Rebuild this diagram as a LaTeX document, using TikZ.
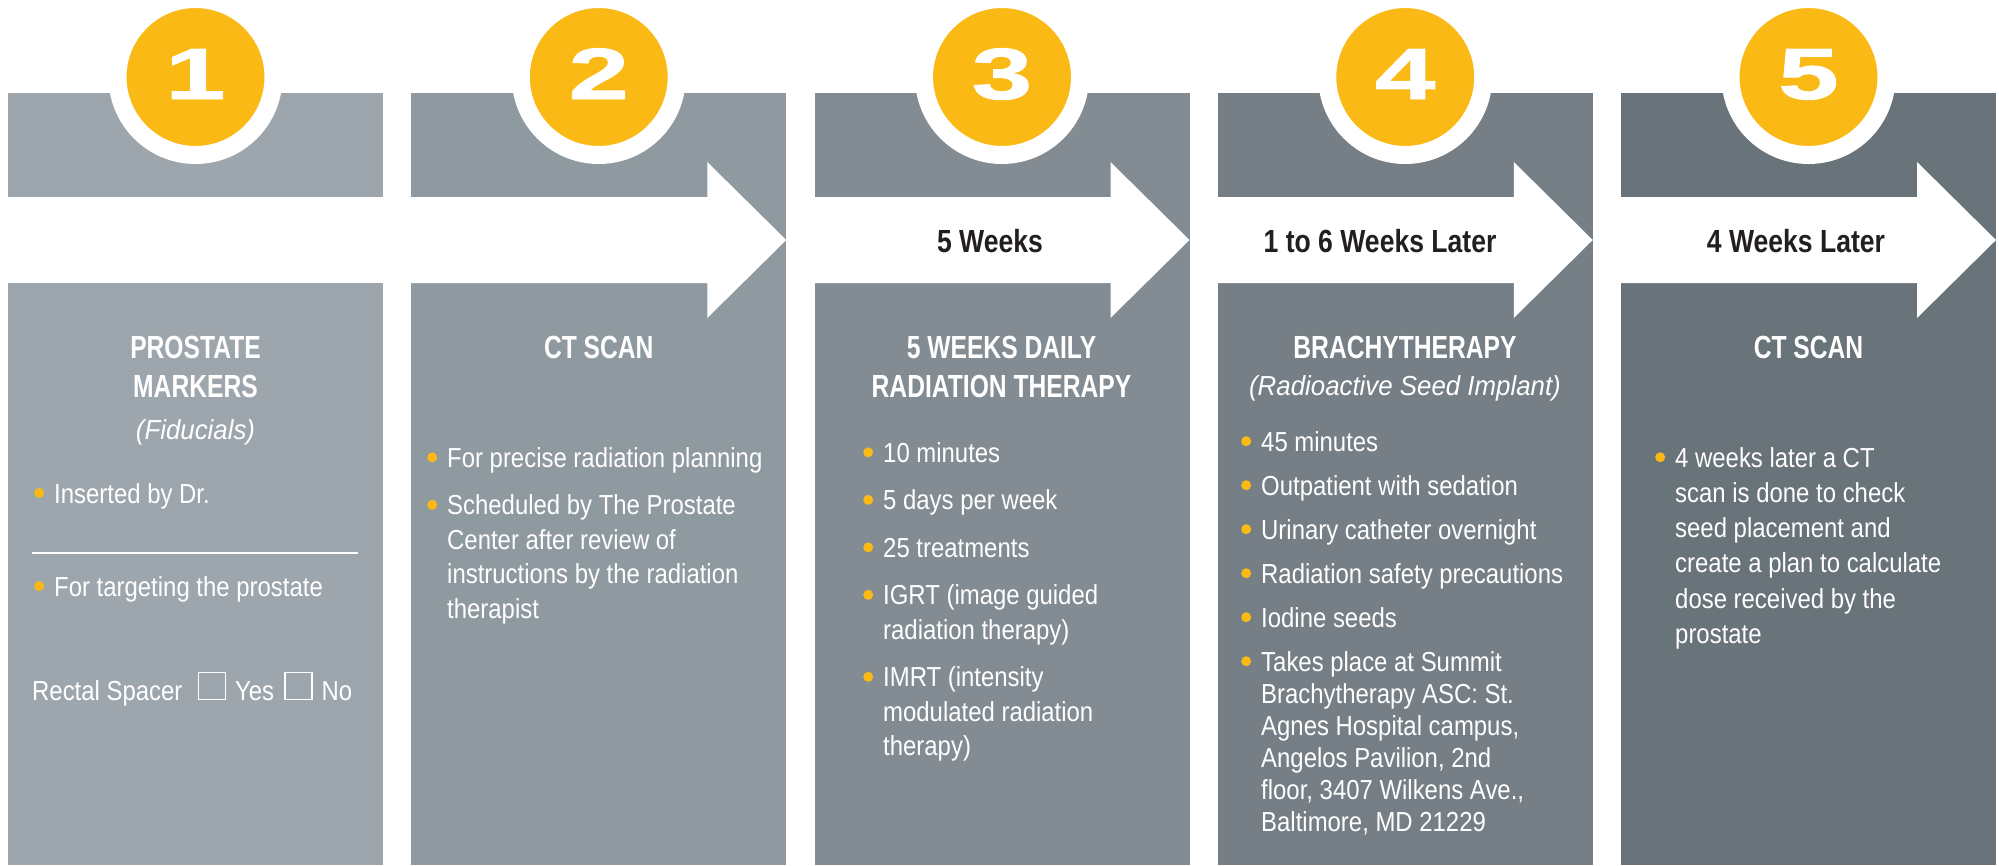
\documentclass[tikz,border=0pt]{standalone}
\usepackage{fontspec}
\usetikzlibrary{positioning}

\newfontfamily\bodyfont{Liberation Sans}[FakeStretch=0.87]
\newfontfamily\headfont{Liberation Sans}[FakeStretch=0.77]
\newfontfamily\bandfont{Liberation Sans}[FakeStretch=0.83]
\newfontfamily\subfont{Liberation Sans}[FakeStretch=0.94]
\newfontfamily\numfont{Liberation Sans}[FakeStretch=1.5, FakeBold=1.2]

\definecolor{panA}{HTML}{9EA6AD}
\definecolor{panB}{HTML}{8F9AA0}
\definecolor{panC}{HTML}{838C92}
\definecolor{panD}{HTML}{767F85}
\definecolor{panE}{HTML}{69737A}
\definecolor{disc}{HTML}{FBB916}
\definecolor{ink}{HTML}{231F20}

\newcommand{\bul}{\strut\llap{\tikz[baseline=-10pt]\fill[disc] (0pt,0pt) circle (5pt);\hspace{10pt}}}

\begin{document}
\begin{tikzpicture}[x=1pt, y=-1pt,
  numdisc/.style={circle, fill=disc, draw=white, line width=18pt, minimum size=156pt, inner sep=0pt,
    text=white, font=\numfont\bfseries\fontsize{72.6}{72.6}\selectfont, text height=52pt, text depth=8pt},
  head/.style={align=center, anchor=north, inner sep=0pt, text=white, font=\headfont\bfseries\fontsize{32}{39}\selectfont},
  sub/.style={anchor=base, inner sep=0pt, text=white, font=\subfont\itshape\fontsize{27.5}{32}\selectfont},
  band/.style={anchor=base, inner sep=0pt, text=ink, font=\bandfont\bfseries\fontsize{32}{32}\selectfont},
  body/.style={align=left, inner sep=0pt, text=white, font=\bodyfont\fontsize{27.5}{#1}\selectfont},
  body/.default=34.5,
  chk/.style={draw=white, line width=1.2pt, minimum size=27pt, inner sep=0pt}]
  \useasboundingbox (0,0) rectangle (1999,865);

  \foreach \i/\col in {1/panA,2/panB,3/panC,4/panD,5/panE}{
    \pgfmathsetmacro\xl{8+403.25*(\i-1)}
    \pgfmathsetmacro\xr{\xl+375}
    \pgfmathsetmacro\xh{\xl+296}
    \fill[\col] (\xl,93) rectangle (\xr,865);
    \ifnum\i=1
      \fill[white] (\xl-1,197) rectangle (\xr+1,283);
    \else
      \fill[white] (\xl-1,197) -| (\xh,162) -- (\xr,240) -- (\xh,318) |- (\xl-1,283) -- cycle;
    \fi
    \node[numdisc] (n\i) at (\xl+187.5,77) {\i};
  }

  % step 1
  \node[head] (h1) at (195.5,330.7) {\strut PROSTATE\\MARKERS};
  \node[sub] (s1) at (195.5,439) {(Fiducials)};
  \node[body, anchor=base west] (b1a) at (54,503) {\bul Inserted by Dr.};
  \draw[white, line width=1.2pt] (32,553) -- (358,553);
  \node[body, anchor=base west] (b1b) at (54,596) {\bul For targeting the prostate};
  \node[body, anchor=base west] (spc) at (32,700) {Rectal Spacer};
  \node[chk, above right=0pt and 15pt of spc.base east] (ybox) {};
  \node[body, base right=9pt of ybox.south east] (yes) {Yes};
  \node[chk, above right=0pt and 10pt of yes.base east] (nbox) {};
  \node[body, base right=9pt of nbox.south east] (no) {No};

  % step 2
  \node[head] (h2) at (598.75,330.7) {\strut CT SCAN};
  \node[body, anchor=north west] (b2) at (447,443) {\bul For precise radiation planning\\[13pt]
    \bul Scheduled by The Prostate\\Center after review of\\instructions by the radiation\\therapist};

  % step 3
  \node[band] (w3) at (990,252) {5 Weeks};
  \node[head] (h3) at (1001.5,330.7) {\strut 5 WEEKS DAILY\\RADIATION THERAPY};
  \node[body, anchor=north west] (b3) at (883,438) {\bul 10 minutes\\[13pt]
    \bul 5 days per week\\[13pt]
    \bul 25 treatments\\[13pt]
    \bul IGRT (image guided\\radiation therapy)\\[13pt]
    \bul IMRT (intensity\\modulated radiation\\therapy)};

  % step 4
  \node[band] (w4) at (1380,252) {1 to 6 Weeks Later};
  \node[head] (h4) at (1405,330.7) {\strut BRACHYTHERAPY};
  \node[sub] (s4) at (1405,395) {(Radioactive Seed Implant)};
  \node[body=32, anchor=north west] (b4) at (1261,428.6) {\bul 45 minutes\\[12pt]
    \bul Outpatient with sedation\\[12pt]
    \bul Urinary catheter overnight\\[12pt]
    \bul Radiation safety precautions\\[12pt]
    \bul Iodine seeds\\[12pt]
    \bul Takes place at Summit\\Brachytherapy ASC: St.\\Agnes Hospital campus,\\Angelos Pavilion, 2nd\\floor, 3407 Wilkens Ave.,\\Baltimore, MD 21229};

  % step 5
  \node[band] (w5) at (1796,252) {4 Weeks Later};
  \node[head] (h5) at (1808.5,330.7) {\strut CT SCAN};
  \node[body=35.2, anchor=north west] (b5) at (1675,442.4) {\bul 4 weeks later a CT\\scan is done to check\\seed placement and\\create a plan to calculate\\dose received by the\\prostate};
\end{tikzpicture}
\end{document}
